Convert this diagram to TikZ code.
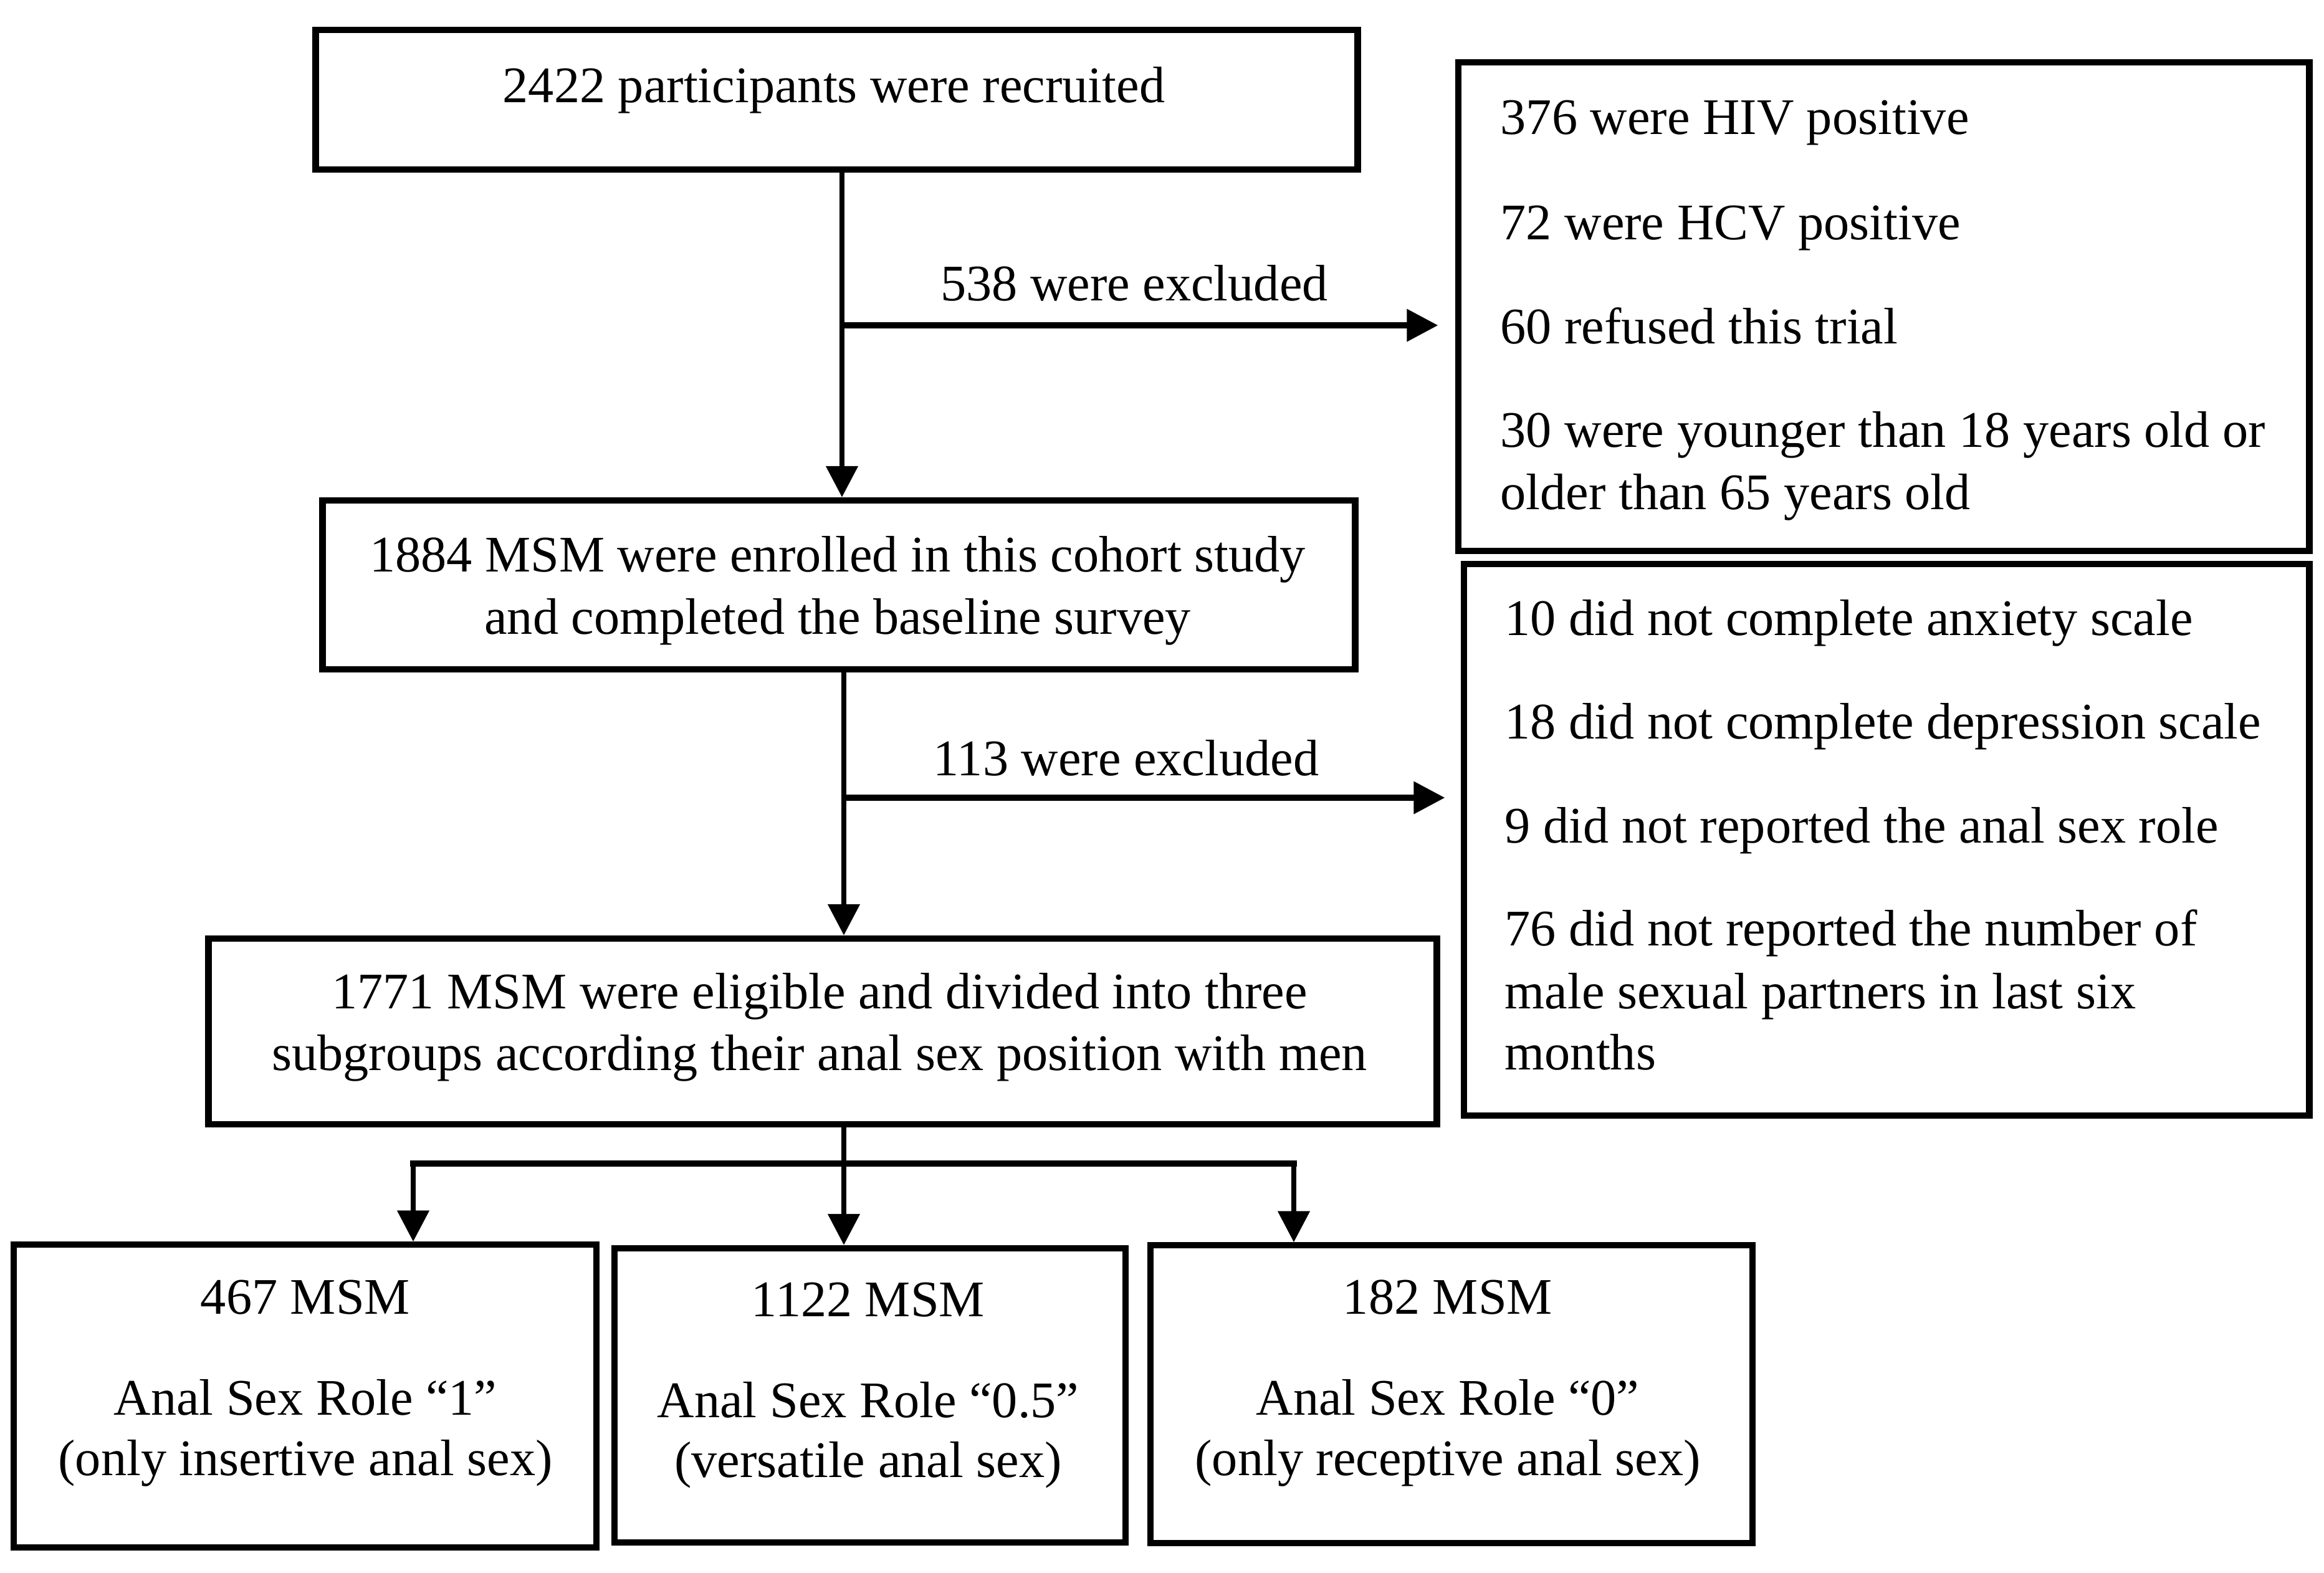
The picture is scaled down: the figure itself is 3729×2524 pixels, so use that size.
\documentclass[tikz,border=0pt]{standalone}
\usepackage{fontspec}
\setmainfont{Liberation Serif}
\usetikzlibrary{arrows.meta}
\begin{document}
\begin{tikzpicture}[x=0.01cm,y=-0.01cm,
  boxst/.style={draw=black,line width=2.9pt,rectangle,inner sep=0pt,fill=none},
  txt/.style={inner sep=0pt,anchor=base,font=\fontsize{23.4}{28.45}\selectfont},
  ltxt/.style={txt,anchor=base west},
  vline/.style={draw=black,line width=2.3pt},
  hline/.style={draw=black,line width=2.8pt},
  arr/.style={-{Triangle[length=0.5cm,width=0.5cm]}}]
\useasboundingbox (0,0) rectangle (3729,2524);
% boxes
\node[boxst,minimum width=16.71cm,minimum height=2.24cm] (b1) at (1342.5,160) {};
\node[boxst,minimum width=13.65cm,minimum height=7.84cm] (r1) at (3022.5,492) {};
\node[boxst,minimum width=16.56cm,minimum height=2.71cm] (b2) at (1346,938.5) {};
\node[boxst,minimum width=13.56cm,minimum height=8.85cm] (r2) at (3027,1347.5) {};
\node[boxst,minimum width=19.70cm,minimum height=2.98cm] (b3) at (1320,1655) {};
\node[boxst,minimum width=9.35cm,minimum height=4.85cm] (ba) at (489.5,2240) {};
\node[boxst,minimum width=8.20cm,minimum height=4.72cm] (bb) at (1396,2239) {};
\node[boxst,minimum width=9.66cm,minimum height=4.77cm] (bc) at (2329,2237) {};
% texts
\node[txt] (t1) at (1338,164) {2422 participants were recruited};
\node[ltxt] (r1a) at (2407,215) {376 were HIV positive};
\node[ltxt] (r1b) at (2407,384) {72 were HCV positive};
\node[ltxt] (r1c) at (2407,551) {60 refused this trial};
\node[ltxt] (r1d) at (2407,717) {30 were younger than 18 years old or};
\node[ltxt] (r1e) at (2407,817) {older than 65 years old};
\node[txt] (t2a) at (1344,917) {1884 MSM were enrolled in this cohort study};
\node[txt] (t2b) at (1344,1017) {and completed the baseline survey};
\node[ltxt] (r2a) at (2414,1019) {10 did not complete anxiety scale};
\node[ltxt] (r2b) at (2414,1185) {18 did not complete depression scale};
\node[ltxt] (r2c) at (2414,1352) {9 did not reported the anal sex role};
\node[ltxt] (r2d) at (2414,1517) {76 did not reported the number of};
\node[ltxt] (r2e) at (2414,1618) {male sexual partners in last six};
\node[ltxt] (r2f) at (2414,1716) {months};
\node[txt] (t3a) at (1315,1618) {1771 MSM were eligible and divided into three};
\node[txt] (t3b) at (1315,1717) {subgroups according their anal sex position with men};
\node[txt] (l1) at (1820,482) {538 were excluded};
\node[txt] (l2) at (1807,1244) {113 were excluded};
\node[txt] (ta1) at (490,2108) {467 MSM};
\node[txt] (ta2) at (490,2270) {Anal Sex Role “1”};
\node[txt] (ta3) at (490,2367) {(only insertive anal sex)};
\node[txt] (tb1) at (1393,2112) {1122 MSM};
\node[txt] (tb2) at (1393,2274) {Anal Sex Role “0.5”};
\node[txt] (tb3) at (1393,2370) {(versatile anal sex)};
\node[txt] (tc1) at (2323,2108) {182 MSM};
\node[txt] (tc2) at (2323,2270) {Anal Sex Role “0”};
\node[txt] (tc3) at (2323,2367) {(only receptive anal sex)};
% connectors
\coordinate (j1) at (1351,522);
\coordinate (j2) at (1354,1280);
\coordinate (bl) at (663,1867);
\coordinate (br) at (2076,1867);
\draw[vline,arr] (b1.south -| j1) -- (b2.north -| j1);
\draw[hline,arr,shorten >=0.27cm] (j1) -- (r1.west |- j1);
\draw[vline,arr] (b2.south -| j2) -- (b3.north -| j2);
\draw[hline,arr,shorten >=0.25cm] (j2) -- (r2.west |- j2);
\draw[vline,arr] (b3.south -| j2) -- (bb.north -| j2);
\draw[hline,line cap=rect] (bl) -- (br);
\draw[vline,arr] (bl) -- (ba.north -| bl);
\draw[vline,arr] (br) -- (bc.north -| br);
\end{tikzpicture}
\end{document}
